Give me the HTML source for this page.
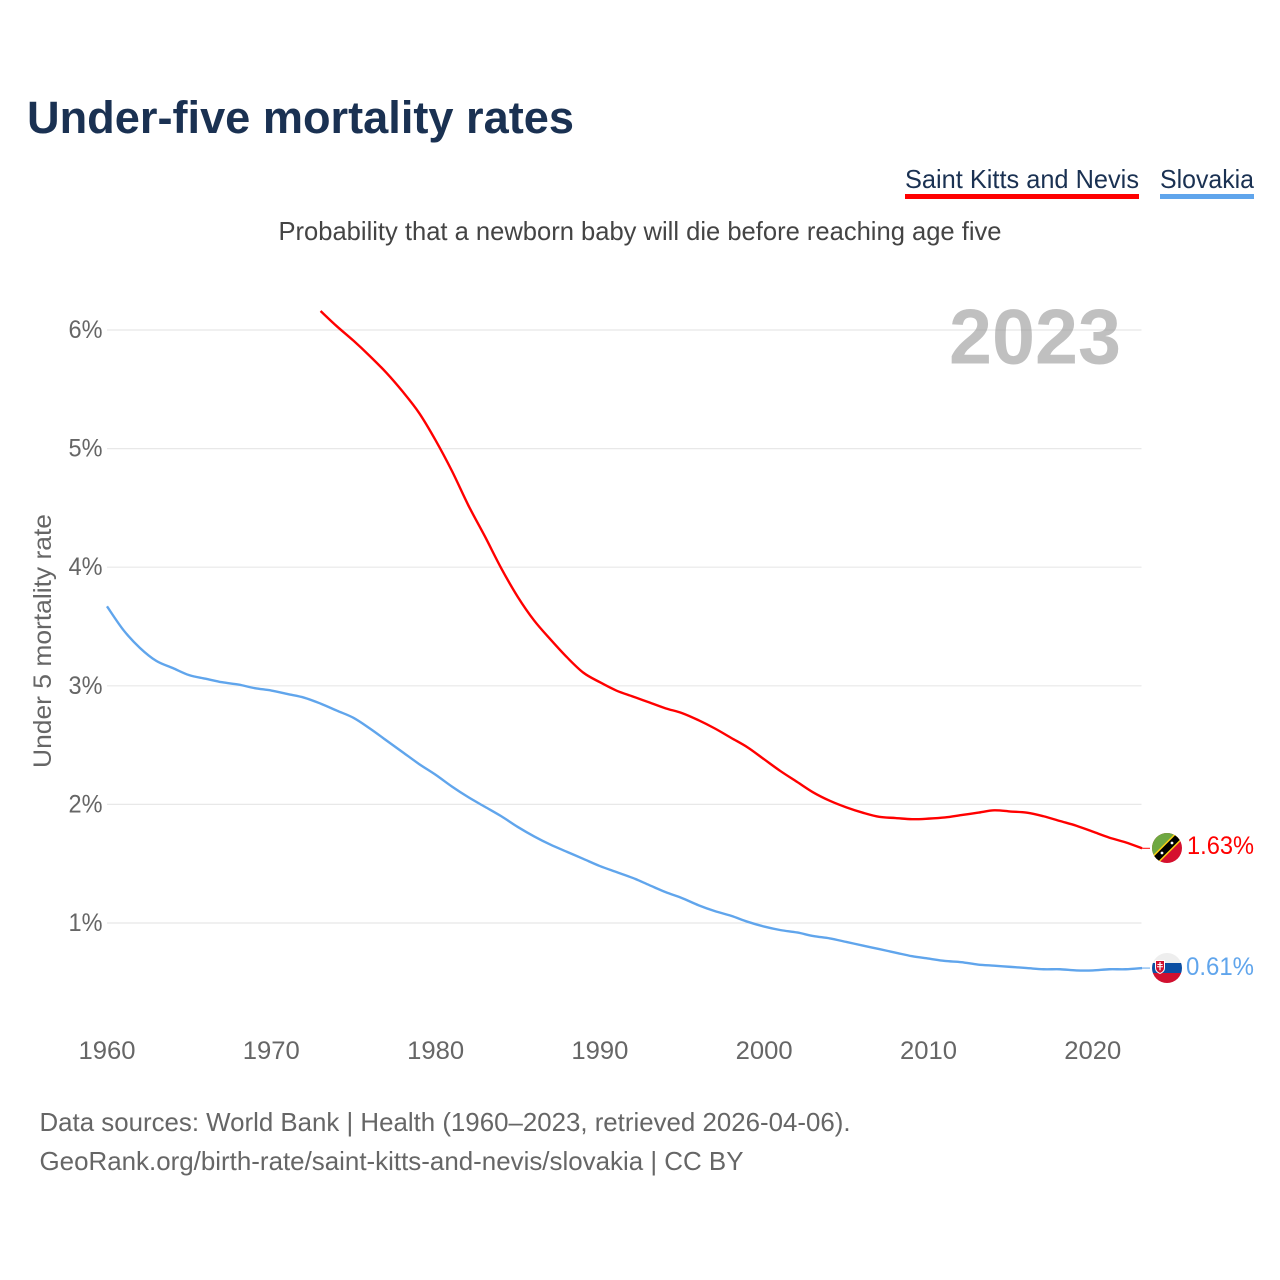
<!DOCTYPE html>
<html lang="en">
<head>
<meta charset="utf-8">
<title>Under-five mortality rates</title>
<style>
html,body{margin:0;padding:0;background:#fff;}
svg{display:block;}
text{font-family:"Liberation Sans",sans-serif;}
</style>
</head>
<body>
<svg id="chart" xmlns="http://www.w3.org/2000/svg" width="1280" height="1280" viewBox="0 0 1280 1280">
  <defs>
    <clipPath id="flag-clip-kn"><circle cx="1167" cy="848" r="15"/></clipPath>
    <clipPath id="flag-clip-sk"><circle cx="1167" cy="968" r="15"/></clipPath>
  </defs>
  <rect width="1280" height="1280" fill="#fff"/>
  <text x="27" y="133" font-size="45" font-weight="700" fill="#1a3152" textLength="547" lengthAdjust="spacingAndGlyphs">Under-five mortality rates</text>
  <g>
    <text x="905" y="188" font-size="26" fill="#1a3152" textLength="234" lengthAdjust="spacingAndGlyphs">Saint Kitts and Nevis</text>
    <rect x="905" y="194" width="234" height="5" fill="#ff0000"/>
  </g>
  <g>
    <text x="1160" y="188" font-size="26" fill="#1a3152" textLength="94" lengthAdjust="spacingAndGlyphs">Slovakia</text>
    <rect x="1160" y="194" width="94" height="5" fill="#60a5ec"/>
  </g>
  <text x="278.5" y="240" font-size="26" fill="#444" textLength="723" lengthAdjust="spacingAndGlyphs">Probability that a newborn baby will die before reaching age five</text>
  <g id="grid"></g>
  <g id="yticks"></g>
  <g id="xticks"></g>
  <text transform="translate(51,768) rotate(-90)" font-size="25" fill="#666" textLength="254" lengthAdjust="spacingAndGlyphs">Under 5 mortality rate</text>
  <text x="949" y="363.5" font-size="78" font-weight="700" fill="#999" fill-opacity="0.62" textLength="172" lengthAdjust="spacingAndGlyphs">2023</text>
  <g id="series"></g>
  <g clip-path="url(#flag-clip-kn)">
    <rect x="1152" y="833" width="30" height="30" fill="#d5102e"/>
    <polygon points="1152,833 1182,833 1152,863" fill="#6ea842"/>
    <line x1="1152" y1="863" x2="1182" y2="833" stroke="#fcd116" stroke-width="9.5"/>
    <line x1="1152" y1="863" x2="1182" y2="833" stroke="#000" stroke-width="6.5"/>
    <circle cx="1162" cy="853" r="1.4" fill="#fff"/>
    <circle cx="1172" cy="843" r="1.4" fill="#fff"/>
  </g>
  <g clip-path="url(#flag-clip-sk)">
    <rect x="1152" y="953" width="30" height="10" fill="#eeeeee"/>
    <rect x="1152" y="963" width="30" height="10" fill="#0b4ea2"/>
    <rect x="1152" y="973" width="30" height="10" fill="#d1102f"/>
    <path d="M1155 960h10v8q0 4-5 6q-5-2-5-6z" fill="#fff"/>
    <path d="M1156 961h8v7q0 3-4 5q-4-2-4-5z" fill="#d1102f"/>
    <path d="M1159.4 962h1.2v2h2v1h-2v1.2h2.4v1h-2.4v3h-1.2v-3h-2.4v-1h2.4v-1.2h-2v-1h2z" fill="#fff"/>
  </g>
  <text x="1187" y="854" font-size="25" fill="#ff0000" textLength="67" lengthAdjust="spacingAndGlyphs">1.63%</text>
  <text x="1186" y="975" font-size="25" fill="#60a5ec" textLength="68" lengthAdjust="spacingAndGlyphs">0.61%</text>
  <text x="39.5" y="1131" font-size="26" fill="#666" textLength="811" lengthAdjust="spacingAndGlyphs">Data sources: World Bank | Health (1960–2023, retrieved 2026-04-06).</text>
  <text x="39.5" y="1170" font-size="26" fill="#666" textLength="704" lengthAdjust="spacingAndGlyphs">GeoRank.org/birth-rate/saint-kitts-and-nevis/slovakia | CC BY</text>
</svg>
<script>
const xTickYears = [1960, 1970, 1980, 1990, 2000, 2010, 2020];
const yTickValues = [1, 2, 3, 4, 5, 6];
const yTickLabels = ['1%', '2%', '3%', '4%', '5%', '6%'];

const kittsStartYear = 1973;
const kittsValues = [6.16, 6.03, 5.91, 5.78, 5.64, 5.48, 5.30, 5.07, 4.81, 4.52, 4.26, 3.99, 3.75, 3.55, 3.39, 3.24, 3.11, 3.03, 2.96, 2.91, 2.86, 2.81, 2.77, 2.71, 2.64, 2.56, 2.48, 2.38, 2.28, 2.19, 2.10, 2.03, 1.975, 1.93, 1.895, 1.885, 1.875, 1.88, 1.89, 1.91, 1.93, 1.95, 1.94, 1.93, 1.90, 1.86, 1.82, 1.77, 1.72, 1.68, 1.63];

const slovakiaStartYear = 1960;
const slovakiaValues = [3.67, 3.47, 3.32, 3.21, 3.15, 3.09, 3.06, 3.03, 3.01, 2.98, 2.96, 2.93, 2.90, 2.85, 2.79, 2.73, 2.64, 2.54, 2.44, 2.34, 2.25, 2.15, 2.06, 1.98, 1.90, 1.81, 1.73, 1.66, 1.60, 1.54, 1.48, 1.43, 1.38, 1.32, 1.26, 1.21, 1.15, 1.10, 1.06, 1.01, 0.97, 0.94, 0.92, 0.89, 0.87, 0.84, 0.81, 0.78, 0.75, 0.72, 0.70, 0.68, 0.67, 0.65, 0.64, 0.63, 0.62, 0.61, 0.61, 0.60, 0.60, 0.61, 0.61, 0.62];

const NS = 'http://www.w3.org/2000/svg';
function xScale(year) { return 107 + (year - 1960) * 16.43; }
function yScale(value) { return 1041.6 - value * 118.6; }
function make(tag, attrs, parent) {
  const el = document.createElementNS(NS, tag);
  for (const k in attrs) el.setAttribute(k, attrs[k]);
  parent.appendChild(el);
  return el;
}
const gridGroup = document.getElementById('grid');
const yTickGroup = document.getElementById('yticks');
const xTickGroup = document.getElementById('xticks');
const seriesGroup = document.getElementById('series');

yTickValues.forEach(function (value, i) {
  const y = yScale(value);
  const line = make('line', {x1: 107, x2: 1141.5, y1: y, y2: y, stroke: '#e8e8e8', 'stroke-width': 1.2}, gridGroup);
  
  
  const label = make('text', {x: 102.5, y: y + 8, 'font-size': 25, fill: '#666', 'text-anchor': 'end', textLength: 34, lengthAdjust: 'spacingAndGlyphs'}, yTickGroup);
  
  
  label.textContent = yTickLabels[i];
});

xTickYears.forEach(function (year) {
  const label = make('text', {x: xScale(year), y: 1059, 'font-size': 25, fill: '#666', 'text-anchor': 'middle', textLength: 57, lengthAdjust: 'spacingAndGlyphs'}, xTickGroup);
  
  
  label.textContent = String(year);
});

function smoothPath(startYear, values) {
  const pts = values.map(function (v, i) {
    return {x: xScale(startYear + i), y: yScale(v)};
  });
  let d = 'M' + pts[0].x.toFixed(2) + ' ' + pts[0].y.toFixed(2);
  for (let i = 0; i < pts.length - 1; i++) {
    const p0 = pts[Math.max(i - 1, 0)];
    const p1 = pts[i];
    const p2 = pts[i + 1];
    const p3 = pts[Math.min(i + 2, pts.length - 1)];
    const c1x = p1.x + (p2.x - p0.x) / 6;
    const c1y = p1.y + (p2.y - p0.y) / 6;
    const c2x = p2.x - (p3.x - p1.x) / 6;
    const c2y = p2.y - (p3.y - p1.y) / 6;
    d += 'C' + c1x.toFixed(2) + ' ' + c1y.toFixed(2) + ' ' + c2x.toFixed(2) + ' ' + c2y.toFixed(2) + ' ' + p2.x.toFixed(2) + ' ' + p2.y.toFixed(2);
  }
  return d;
}
function lastPoint(startYear, values) {
  const i = values.length - 1;
  return {x: xScale(startYear + i), y: yScale(values[i])};
}

const kittsLine = make('path', {d: smoothPath(kittsStartYear, kittsValues), fill: 'none', stroke: '#ff0000', 'stroke-width': 2.4, 'stroke-linejoin': 'round'}, seriesGroup);



const slovakiaLine = make('path', {d: smoothPath(slovakiaStartYear, slovakiaValues), fill: 'none', stroke: '#60a5ec', 'stroke-width': 2.4, 'stroke-linejoin': 'round'}, seriesGroup);



const kittsEnd = lastPoint(kittsStartYear, kittsValues);
const kittsLeader = make('line', {x1: kittsEnd.x, y1: kittsEnd.y, x2: 1150, y2: kittsEnd.y, stroke: '#ff0000', 'stroke-width': 1}, seriesGroup);



const slovakiaEnd = lastPoint(slovakiaStartYear, slovakiaValues);
const slovakiaLeader = make('line', {x1: slovakiaEnd.x, y1: slovakiaEnd.y, x2: 1150, y2: slovakiaEnd.y, stroke: '#60a5ec', 'stroke-width': 1}, seriesGroup);


</script>
</body>
</html>
